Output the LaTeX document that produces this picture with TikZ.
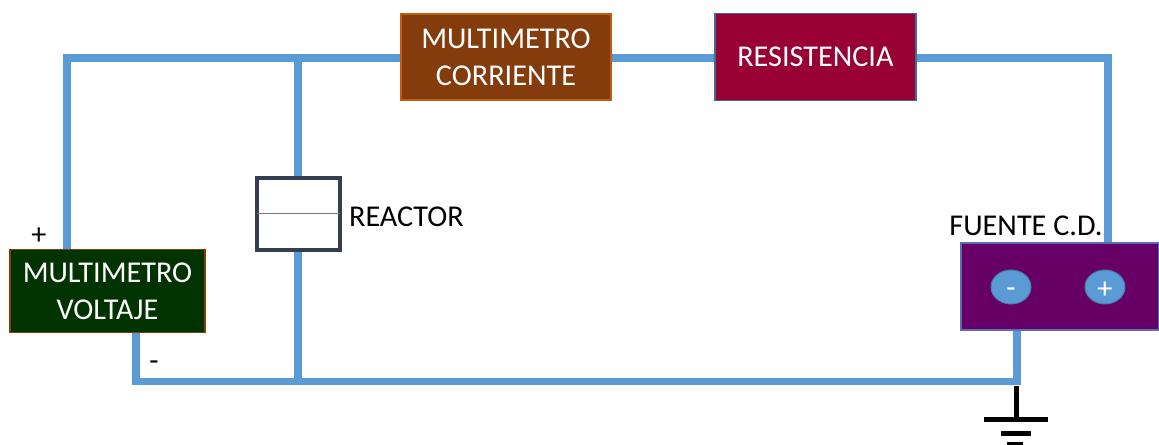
\documentclass[tikz,border=0pt]{standalone}
\usepackage{fontspec}
\setmainfont{Carlito}
\usetikzlibrary{positioning, shapes.geometric}
\definecolor{wire}{HTML}{5B9BD5}
\definecolor{voltfill}{HTML}{003300}
\definecolor{brownfill}{HTML}{843C0C}
\definecolor{brownedge}{HTML}{C55A11}
\definecolor{resfill}{HTML}{990033}
\definecolor{fuentefill}{HTML}{660066}
\definecolor{reactoredge}{HTML}{333F50}
\begin{document}
\begin{tikzpicture}[x=0.02cm, y=-0.02cm, node distance = 2cm,
	cable/.style={draw=wire, line width=0.15cm, line join=miter},
	tierra/.style={draw=black, line width=0.1cm},
	caja/.style={rectangle, draw, line width=0.03cm, inner sep=0pt, align=center, text=white, font=\fontsize{17.2}{21}\selectfont},
	borne/.style={ellipse, draw=wire!80!black, line width=0.02cm, fill=wire, inner sep=0pt, minimum width=0.8cm, minimum height=0.68cm, text=white, font=\fontsize{17.2}{21}\selectfont},
	etiqueta/.style={inner sep=0pt, font=\fontsize{17.2}{21}\selectfont}]
	
	\useasboundingbox (0,0) rectangle (1159,445);
	
	\node (volt) [caja, fill=voltfill, draw=brownfill, minimum width=3.9cm, minimum height=1.66cm] at (107.5,291) {MULTIMETRO\\VOLTAJE};
	\node (corr) [caja, fill=brownfill, draw=brownedge, minimum width=4.2cm, minimum height=1.72cm] at (506,57) {MULTIMETRO\\CORRIENTE};
	\node (res) [caja, fill=resfill, draw=wire!70!black, minimum width=4.02cm, minimum height=1.74cm, right of=corr, node distance=6.19cm] {RESISTENCIA};
	\node (reactor) [rectangle, draw=reactoredge, line width=0.08cm, minimum width=1.65cm, minimum height=1.46cm] at (298.5,214) {};
	\node (fuente) [caja, fill=fuentefill, draw=wire!70!fuentefill, minimum width=3.96cm, minimum height=1.74cm] at (1060,286.5) {};
	\node (menos) [borne] at (1011,287) {\raisebox{-0.21cm}[0pt][0pt]{-}};
	\node (mas) [borne, right of=menos, node distance=1.88cm] {\raisebox{-0.23cm}[0pt][0pt]{+}};
	
	\node (lreactor) [etiqueta, right=0.14cm of reactor, yshift=-0.06cm] {REACTOR};
	\node (lfuente) [etiqueta] at (1026,226) {FUENTE C.D.};
	\node (lmas) [etiqueta] at (39,236) {+};
	\node (lmenos) [etiqueta] at (154,366) {-};
	
	% esquinas del circuito
	\coordinate (sup) at (67,58);
	\coordinate (nodosup) at (298,58);
	\coordinate (der) at (1108,58);
	\coordinate (inf) at (136,381.5);
	\coordinate (nodoinf) at (298,381.5);
	\coordinate (infder) at (1017,381.5);
	
	\draw [cable] (volt.north -| sup) -- (sup) -- (corr.west |- sup);
	\draw [cable] (corr.east |- sup) -- (res.west |- sup);
	\draw [cable] (res.east |- sup) -- (der) -- (fuente.north -| der);
	\draw [cable] (nodosup) -- (reactor.north -| nodosup);
	\draw [cable] (reactor.south -| nodoinf) -- (nodoinf);
	\draw [cable] (volt.south -| inf) -- (inf) -- (infder) -- (fuente.south -| infder);
	\draw [draw=reactoredge!70!white, line width=0.02cm, shorten >=0.04cm, shorten <=0.04cm] (reactor.west) -- (reactor.east);
	
	% tierra
	\coordinate (t0) at (1016,386);
	\coordinate (t1) at (1016,419.5);
	\coordinate (t1a) at (984,419.5);
	\coordinate (t1b) at (1048,419.5);
	\coordinate (t2a) at (1001,433.5);
	\coordinate (t2b) at (1031,433.5);
	\coordinate (t3a) at (1007,444.5);
	\coordinate (t3b) at (1023,444.5);
	\draw [tierra] (t0) -- (t1);
	\draw [tierra] (t1a) -- (t1b);
	\draw [tierra] (t2a) -- (t2b);
	\draw [tierra] (t3a) -- (t3b);
	
\end{tikzpicture}
\end{document}
